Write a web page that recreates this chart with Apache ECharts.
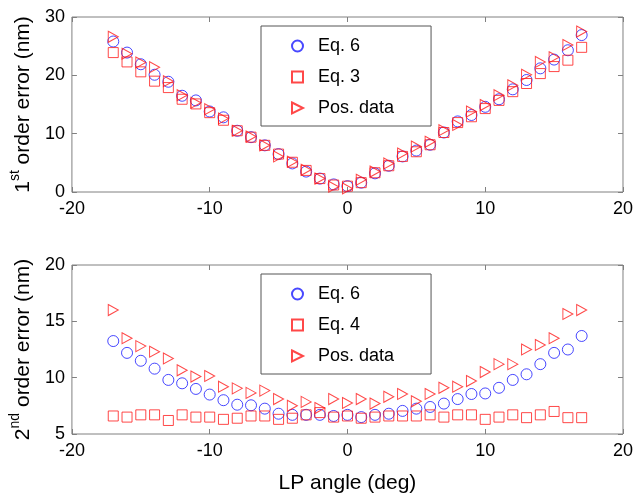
<!DOCTYPE html>
<html>
<head>
<meta charset="utf-8">
<script src="https://cdn.jsdelivr.net/npm/echarts@6/dist/echarts.min.js"></script>
<style>
  html, body { margin: 0; padding: 0; background: #fff; }
  #chart { width: 636px; height: 495px; }
</style>
</head>
<body>
<div id="chart"></div>
<script>
// LP angle (deg)
const angles = [-17, -16, -15, -14, -13, -12, -11, -10, -9, -8, -7, -6, -5, -4, -3, -2, -1,
  0, 1, 2, 3, 4, 5, 6, 7, 8, 9, 10, 11, 12, 13, 14, 15, 16, 17];

// 1st order error (nm)
const eq6First = [25.8, 23.9, 21.9, 20.1, 18.9, 16.5, 15.7, 13.8, 12.8, 10.5, 9.4, 8.0, 6.5, 4.9, 3.5, 2.3, 1.3,
  1.0, 1.6, 3.2, 4.5, 6.1, 7.1, 8.1, 10.2, 12.1, 13.2, 14.6, 15.9, 17.6, 19.2, 21.2, 22.7, 24.3, 26.9];
const eq3First = [23.9, 22.3, 20.6, 19.0, 17.9, 15.9, 15.1, 13.6, 12.3, 10.5, 9.4, 8.0, 6.5, 5.1, 3.7, 2.3, 1.2,
  1.0, 1.6, 3.3, 4.5, 6.1, 6.9, 8.1, 10.2, 11.9, 12.9, 14.3, 15.7, 17.2, 18.6, 20.3, 21.5, 22.6, 24.8];
const posFirst = [26.6, 23.7, 22.2, 21.4, 19.0, 16.6, 15.3, 14.2, 12.6, 10.5, 9.5, 8.0, 6.1, 5.2, 3.8, 2.3, 0.9,
  0.6, 2.1, 3.5, 4.9, 6.6, 7.8, 8.6, 10.6, 11.5, 13.8, 14.9, 16.6, 18.3, 20.1, 22.3, 23.1, 25.2, 27.5];

// 2nd order error (nm)
const eq6Second = [13.25, 12.2, 11.5, 10.8, 9.8, 9.5, 9.0, 8.5, 8.0, 7.6, 7.55, 7.25, 6.8, 6.7, 6.7, 6.7, 6.6,
  6.7, 6.5, 6.7, 6.8, 7.05, 7.25, 7.4, 7.7, 8.1, 8.55, 8.6, 9.1, 9.8, 10.3, 11.2, 12.2, 12.5, 13.7];
const eq4Second = [6.6, 6.5, 6.7, 6.7, 6.2, 6.7, 6.5, 6.5, 6.3, 6.4, 6.6, 6.6, 6.3, 6.4, 6.7, 6.9, 6.5,
  6.6, 6.4, 6.5, 6.6, 6.6, 6.6, 6.7, 6.5, 6.7, 6.7, 6.3, 6.5, 6.7, 6.45, 6.7, 7.0, 6.45, 6.45];
const posSecond = [16.0, 13.5, 12.8, 12.3, 11.7, 10.65, 10.1, 10.15, 9.2, 9.05, 8.65, 8.85, 8.1, 7.5, 7.85, 7.3, 8.1,
  7.75, 8.1, 7.7, 8.3, 8.55, 7.9, 8.55, 9.1, 9.2, 9.7, 10.5, 11.2, 11.2, 12.5, 12.9, 13.5, 15.65, 16.0];

const xTicks = { min: -20, max: 20, interval: 10 };
const yTicksFirst = { min: 0, max: 30, interval: 10 };
const yTicksSecond = { min: 5, max: 20, interval: 5 };

const FONT = '"Liberation Sans", Arial, Helvetica, sans-serif';
const FRAME = '#808080';
const BLUE = '#1a1aff';
const RED = '#ff1a1a';
const TRIANGLE = 'path://M0,0L10,5L0,10Z';

const pairs = ys => angles.map((a, i) => [a, ys[i]]);

function xAxisDef(gridIndex, position, showLabels, name) {
  return {
    type: 'value', gridIndex, position,
    min: xTicks.min, max: xTicks.max, interval: xTicks.interval,
    axisLine: { show: false, onZero: false },
    axisTick: { show: true, inside: true, length: 5, lineStyle: { color: FRAME } },
    axisLabel: { show: showLabels, fontSize: 18, fontFamily: FONT, color: '#000', margin: 8 },
    splitLine: { show: false },
    name: name || '',
    nameLocation: 'middle', nameGap: 39,
    nameTextStyle: { fontSize: 21, fontFamily: FONT, color: '#000' }
  };
}

function yAxisDef(gridIndex, position, ticks, showLabels, nameText) {
  return {
    type: 'value', gridIndex, position,
    min: ticks.min, max: ticks.max, interval: ticks.interval,
    axisLine: { show: false, onZero: false },
    axisTick: { show: true, inside: true, length: 5, lineStyle: { color: FRAME } },
    axisLabel: { show: showLabels, fontSize: 18, fontFamily: FONT, color: '#000', margin: 7 },
    splitLine: { show: false },
    name: nameText || '',
    nameLocation: 'middle', nameRotate: 90, nameGap: 32,
    nameTextStyle: {
      fontSize: 21, fontFamily: FONT, color: '#000',
      rich: {
        n: { fontSize: 21, fontFamily: FONT, color: '#000', lineHeight: 26, verticalAlign: 'bottom' },
        sup: { fontSize: 14, fontFamily: FONT, color: '#000', lineHeight: 26, verticalAlign: 'top' }
      }
    }
  };
}

function scatter(name, xi, yi, ys, symbol, color, size) {
  return {
    type: 'scatter', name, xAxisIndex: xi, yAxisIndex: yi,
    data: pairs(ys), symbol, symbolSize: size,
    itemStyle: { color: 'transparent', borderColor: color, borderWidth: 1 },
    emphasis: { disabled: true },
    z: 2
  };
}

function legendDef(top, names) {
  return {
    orient: 'vertical', left: 261, top,
    data: names,
    backgroundColor: '#fff',
    borderColor: '#555', borderWidth: 1,
    padding: [10, 37, 8, 30],
    itemWidth: 11, itemHeight: 11, itemGap: 11,
    selectedMode: false,
    textStyle: { fontSize: 18, fontFamily: FONT, color: '#000', lineHeight: 20, padding: [0, 0, 0, 10] }
  };
}

const chart = echarts.init(document.getElementById('chart'), null, { renderer: 'canvas' });
chart.setOption({
  animation: false,
  backgroundColor: '#fff',
  grid: [
    { left: 67, right: 13, top: 17, height: 175, show: true, borderColor: FRAME, borderWidth: 1, backgroundColor: 'transparent' },
    { left: 67, right: 13, top: 265, height: 173, show: true, borderColor: FRAME, borderWidth: 1, backgroundColor: 'transparent' }
  ],
  xAxis: [
    xAxisDef(0, 'bottom', true),
    xAxisDef(0, 'top', false),
    xAxisDef(1, 'bottom', true, 'LP angle (deg)'),
    xAxisDef(1, 'top', false)
  ],
  yAxis: [
    yAxisDef(0, 'left', yTicksFirst, true, '{n|1}{sup|st}{n| order error (nm)}'),
    yAxisDef(0, 'right', yTicksFirst, false),
    yAxisDef(1, 'left', yTicksSecond, true, '{n|2}{sup|nd}{n| order error (nm)}'),
    yAxisDef(1, 'right', yTicksSecond, false)
  ],
  legend: [
    legendDef(26, ['Eq. 6', 'Eq. 3', 'Pos. data']),
    legendDef(274, ['Eq. 6', 'Eq. 4', 'Pos. data'])
  ],
  series: [
    scatter('Eq. 6', 0, 0, eq6First, 'circle', BLUE, 11),
    scatter('Eq. 3', 0, 0, eq3First, 'rect', RED, 10),
    scatter('Pos. data', 0, 0, posFirst, TRIANGLE, RED, [10, 11]),
    scatter('Eq. 6', 2, 2, eq6Second, 'circle', BLUE, 11),
    scatter('Eq. 4', 2, 2, eq4Second, 'rect', RED, 10),
    scatter('Pos. data', 2, 2, posSecond, TRIANGLE, RED, [10, 11])
  ]
});
</script>
</body>
</html>
